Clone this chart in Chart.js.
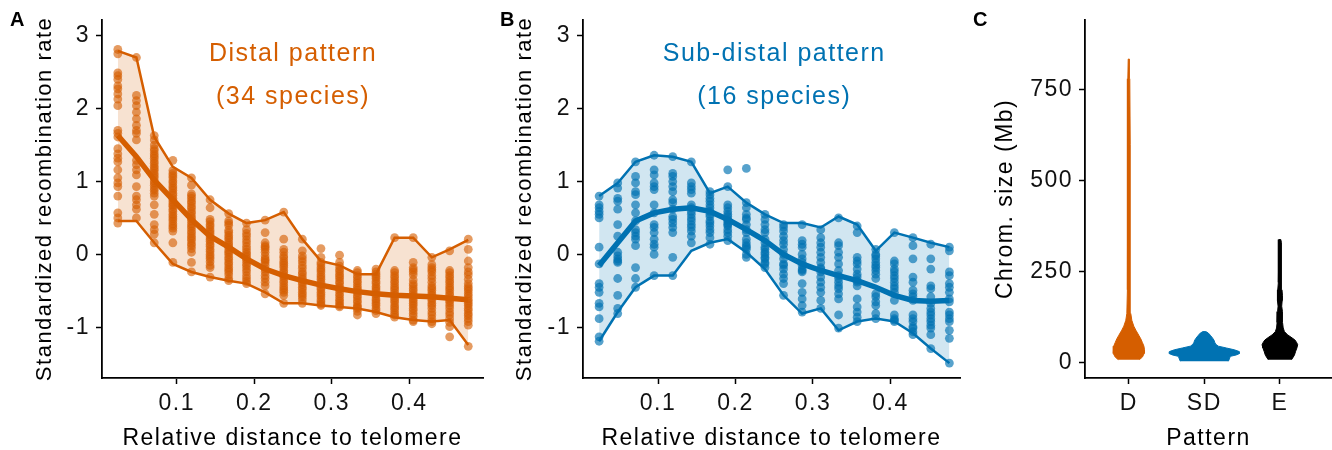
<!DOCTYPE html>
<html>
<head>
<meta charset="utf-8">
<script src="https://cdn.jsdelivr.net/npm/chart.js@4/dist/chart.umd.min.js"></script>
<style>
  html, body { margin: 0; padding: 0; background: #fff; }
  #wrap { position: relative; width: 1332px; height: 450px; overflow: hidden; }
  .panel { position: absolute; top: 0; height: 450px; }
</style>
</head>
<body>
<div id="wrap">
  <div class="panel" style="left:0;width:490px"><canvas id="chartA"></canvas></div>
  <div class="panel" style="left:490px;width:475px"><canvas id="chartB"></canvas></div>
  <div class="panel" style="left:965px;width:367px"><canvas id="chartC"></canvas></div>
</div>
<script>
// ---- data ----
// relative distance bins (20 windows along the chromosome arm)
const distBins = [0.024, 0.048, 0.071, 0.095, 0.119, 0.143, 0.167, 0.190, 0.214, 0.238,
                  0.262, 0.286, 0.310, 0.333, 0.357, 0.381, 0.405, 0.429, 0.452, 0.476];
const distTicks = [0.1, 0.2, 0.3, 0.4];
const rateTicks = [-1, 0, 1, 2, 3];

// A: distal pattern, standardized rate per species, one list per bin
const distalRates = [
  [2.81,2.75,2.49,2.45,2.40,2.31,2.27,2.20,2.13,2.04,1.70,1.66,1.61,1.45,1.38,1.32,1.27,1.16,1.05,0.98,0.93,0.80,0.57,0.50,0.43],
  [2.70,2.18,2.11,2.04,1.95,1.86,1.77,1.70,1.66,1.57,1.29,1.23,1.16,1.09,0.93,0.80,0.75,0.68,0.62,0.50],
  [1.63,1.57,1.50,1.45,1.42,1.38,1.35,1.32,1.28,1.25,1.21,1.18,1.15,1.11,1.08,1.05,1.01,0.98,0.95,0.91,0.88,0.84,0.80,0.68,0.55,0.41,0.34,0.28,0.16],
  [1.29,1.15,1.11,1.08,1.05,1.01,0.98,0.94,0.91,0.88,0.84,0.81,0.77,0.74,0.71,0.68,0.66,0.62,0.59,0.55,0.52,0.49,0.46,0.42,0.39,0.36,0.32,0.16,-0.11],
  [1.05,0.95,0.83,0.80,0.77,0.73,0.70,0.66,0.63,0.59,0.56,0.52,0.49,0.46,0.42,0.39,0.36,0.32,0.29,0.25,0.22,0.19,0.15,0.12,0.08,0.03,-0.11,-0.24],
  [0.75,0.64,0.48,0.45,0.41,0.38,0.34,0.31,0.28,0.24,0.21,0.18,0.14,0.11,0.07,0.04,0.00,-0.03,-0.06,-0.10,-0.15,-0.18,-0.31],
  [0.56,0.46,0.43,0.40,0.33,0.30,0.26,0.23,0.20,0.16,0.13,0.10,0.06,0.03,0.00,-0.04,-0.07,-0.11,-0.14,-0.18,-0.21,-0.24,-0.28,-0.33,-0.36],
  [0.43,0.34,0.29,0.25,0.20,0.16,0.11,0.07,0.03,0.00,-0.03,-0.06,-0.09,-0.13,-0.16,-0.20,-0.24,-0.29,-0.33,-0.37,-0.40],
  [0.47,0.30,0.16,0.12,0.10,0.07,0.03,-0.02,-0.06,-0.08,-0.11,-0.15,-0.20,-0.24,-0.29,-0.33,-0.38,-0.43,-0.54],
  [0.58,0.21,0.07,0.03,-0.02,-0.05,-0.09,-0.12,-0.15,-0.18,-0.22,-0.25,-0.29,-0.32,-0.36,-0.39,-0.43,-0.46,-0.49,-0.52,-0.56,-0.67],
  [0.21,0.05,-0.02,-0.06,-0.10,-0.15,-0.19,-0.24,-0.27,-0.31,-0.34,-0.38,-0.41,-0.45,-0.48,-0.52,-0.55,-0.58,-0.62,-0.67],
  [0.08,-0.04,-0.11,-0.14,-0.18,-0.21,-0.24,-0.28,-0.31,-0.34,-0.38,-0.41,-0.45,-0.48,-0.52,-0.55,-0.58,-0.62,-0.65,-0.68,-0.70],
  [-0.01,-0.11,-0.16,-0.20,-0.23,-0.27,-0.30,-0.33,-0.37,-0.40,-0.44,-0.47,-0.50,-0.54,-0.57,-0.61,-0.64,-0.67,-0.70,-0.72],
  [-0.22,-0.25,-0.29,-0.32,-0.36,-0.39,-0.43,-0.46,-0.49,-0.52,-0.56,-0.59,-0.63,-0.66,-0.70,-0.72,-0.74,-0.78,-0.83],
  [-0.20,-0.24,-0.27,-0.30,-0.33,-0.37,-0.40,-0.44,-0.47,-0.50,-0.54,-0.57,-0.61,-0.64,-0.67,-0.70,-0.74,-0.77,-0.81],
  [0.23,-0.22,-0.25,-0.29,-0.32,-0.36,-0.39,-0.43,-0.46,-0.49,-0.53,-0.56,-0.60,-0.63,-0.66,-0.70,-0.73,-0.76,-0.80,-0.83,-0.86],
  [0.23,-0.11,-0.18,-0.21,-0.24,-0.28,-0.35,-0.40,-0.43,-0.47,-0.50,-0.54,-0.57,-0.61,-0.64,-0.67,-0.70,-0.74,-0.77,-0.81,-0.85,-0.90,-0.92],
  [-0.04,-0.14,-0.18,-0.21,-0.24,-0.29,-0.33,-0.38,-0.43,-0.46,-0.49,-0.53,-0.56,-0.60,-0.63,-0.67,-0.70,-0.74,-0.79,-0.83,-0.88,-0.92,-0.95],
  [0.05,-0.22,-0.25,-0.29,-0.32,-0.36,-0.39,-0.43,-0.46,-0.49,-0.53,-0.56,-0.60,-0.63,-0.66,-0.70,-0.74,-0.79,-0.83,-0.88,-0.93,-0.99,-1.13],
  [0.21,0.07,-0.09,-0.18,-0.24,-0.28,-0.34,-0.40,-0.44,-0.47,-0.50,-0.54,-0.57,-0.61,-0.64,-0.67,-0.70,-0.74,-0.77,-0.81,-0.84,-0.88,-0.92,-0.97,-1.26]
];
const distalUpper = [2.79,2.70,1.61,1.20,1.05,0.75,0.56,0.43,0.47,0.58,0.21,-0.09,-0.15,-0.27,-0.27,0.23,0.23,-0.04,0.07,0.20];
const distalLower = [0.46,0.46,0.16,-0.13,-0.24,-0.31,-0.36,-0.40,-0.52,-0.67,-0.67,-0.70,-0.72,-0.74,-0.79,-0.86,-0.90,-0.92,-0.90,-1.24];
const distalTrend = [1.63,1.34,1.02,0.75,0.48,0.25,0.10,-0.06,-0.20,-0.29,-0.36,-0.42,-0.47,-0.51,-0.54,-0.56,-0.57,-0.58,-0.60,-0.62];

// B: sub-distal pattern
const subRates = [
  [0.80,0.68,0.64,0.59,0.55,0.50,0.10,-0.13,-0.40,-0.45,-0.52,-0.67,-0.72,-0.88,-1.13,-1.19],
  [0.98,0.91,0.77,0.73,0.62,0.41,0.25,0.03,-0.02,-0.06,-0.09,-0.11,-0.33,-0.56,-0.74,-0.81],
  [1.27,1.07,0.98,0.86,0.82,0.68,0.57,0.46,0.34,0.30,0.25,0.21,0.12,-0.18,-0.33,-0.45],
  [1.36,1.16,1.09,0.98,0.93,0.89,0.68,0.57,0.41,0.37,0.30,0.21,0.14,0.10,0.00,-0.29],
  [1.34,1.11,1.07,1.00,0.93,0.86,0.75,0.71,0.62,0.52,0.48,0.43,0.37,0.30,-0.04,-0.29],
  [1.27,0.98,0.93,0.89,0.84,0.68,0.64,0.59,0.55,0.50,0.46,0.41,0.37,0.32,0.25,0.16],
  [0.86,0.82,0.77,0.73,0.68,0.64,0.59,0.55,0.52,0.46,0.43,0.39,0.34,0.30,0.23,0.14],
  [1.16,0.93,0.68,0.64,0.59,0.55,0.52,0.48,0.46,0.43,0.41,0.39,0.34,0.30,0.25,0.19],
  [1.18,0.71,0.64,0.55,0.50,0.48,0.41,0.34,0.30,0.21,0.16,0.12,0.10,0.07,0.00,-0.04],
  [0.55,0.48,0.41,0.34,0.30,0.21,0.16,0.10,0.07,0.03,0.00,-0.04,-0.06,-0.11,-0.13,-0.18],
  [0.41,0.37,0.32,0.25,0.19,0.14,0.07,0.00,-0.06,-0.13,-0.15,-0.20,-0.27,-0.33,-0.40,-0.56],
  [0.41,0.19,0.14,0.10,0.00,-0.06,-0.11,-0.15,-0.20,-0.22,-0.24,-0.40,-0.52,-0.61,-0.70,-0.79],
  [0.34,0.23,0.16,0.10,0.03,-0.04,-0.11,-0.18,-0.20,-0.24,-0.31,-0.38,-0.45,-0.52,-0.63,-0.74],
  [0.50,0.16,0.12,0.03,-0.04,-0.13,-0.22,-0.29,-0.33,-0.38,-0.43,-0.47,-0.54,-0.61,-0.83,-1.01],
  [0.39,0.30,-0.04,-0.09,-0.13,-0.20,-0.27,-0.31,-0.36,-0.38,-0.43,-0.61,-0.72,-0.79,-0.86,-0.92],
  [0.07,0.00,-0.02,-0.06,-0.11,-0.15,-0.18,-0.22,-0.27,-0.33,-0.54,-0.58,-0.65,-0.70,-0.81,-0.88],
  [0.30,-0.09,-0.13,-0.20,-0.24,-0.29,-0.33,-0.38,-0.43,-0.47,-0.52,-0.63,-0.83,-0.88,-0.90,-0.92],
  [0.23,0.12,-0.06,-0.31,-0.38,-0.49,-0.54,-0.58,-0.63,-0.83,-0.88,-0.92,-0.99,-1.01,-1.06,-1.10],
  [0.14,-0.06,-0.20,-0.43,-0.47,-0.58,-0.67,-0.74,-0.79,-0.83,-0.88,-0.92,-0.97,-1.01,-1.10,-1.29],
  [0.10,0.05,-0.24,-0.29,-0.40,-0.45,-0.52,-0.61,-0.65,-0.79,-0.83,-0.88,-0.92,-1.04,-1.15,-1.49]
];
const subUpper = [0.80,0.98,1.27,1.36,1.34,1.27,0.84,0.93,0.71,0.55,0.43,0.43,0.37,0.52,0.41,0.05,0.30,0.23,0.16,0.10];
const subLower = [-1.19,-0.79,-0.45,-0.29,-0.29,0.05,0.16,0.21,0.03,-0.20,-0.56,-0.81,-0.74,-1.04,-0.92,-0.88,-0.92,-1.08,-1.29,-1.49];
const subTrend = [-0.15,0.16,0.46,0.57,0.62,0.64,0.59,0.48,0.34,0.19,0.00,-0.13,-0.22,-0.29,-0.36,-0.45,-0.56,-0.63,-0.64,-0.63];

// C: chromosome size violins, [size Mb, half width in category units], bottom to top
const patternLabels = ['D', 'SD', 'E'];
const sizeTicks = [0, 250, 500, 750];
const violinD = [[8,0.140],[15,0.180],[25,0.203],[35,0.208],[45,0.200],[55,0.180],[65,0.159],[75,0.132],
                 [89,0.093],[100,0.066],[116,0.040],[135,0.026],[200,0.021],[400,0.019],[600,0.016],[780,0.013],[834,0.008]];
const violinSD = [[3.5,0.318],[10,0.331],[17,0.344],[21,0.424],[25,0.468],[30,0.464],[35,0.397],[40,0.291],
                  [45,0.185],[50,0.152],[55,0.139],[62,0.126],[67,0.110],[75,0.079],[81,0.053],[85,0.020]];
const violinE = [[8,0.155],[20,0.192],[31,0.209],[40,0.225],[49,0.236],[56,0.219],[62,0.199],[70,0.146],[76,0.103],
                 [85,0.060],[95,0.044],[110,0.035],[125,0.038],[140,0.030],[155,0.024],[170,0.030],[185,0.034],
                 [200,0.028],[220,0.022],[260,0.019],[300,0.021],[330,0.019],[338,0.012]];

// ---- styling ----
const ORANGE = '#D55E00';
const BLUE = '#0072B2';
const FONT = '"Liberation Sans", Arial, Helvetica, sans-serif';
Chart.defaults.font.family = FONT;
Chart.defaults.color = '#000';

function columnPoints(cols) {
  const pts = [];
  cols.forEach((vals, i) => vals.forEach(v => pts.push({ x: distBins[i], y: v })));
  return pts;
}
function linePoints(vals) {
  return vals.map((v, i) => ({ x: distBins[i], y: v }));
}
function violinShape(profile, pos) {
  const right = profile.map(([y, w]) => ({ x: pos + w, y: y }));
  const left = profile.slice().reverse().map(([y, w]) => ({ x: pos - w, y: y }));
  return right.concat(left);
}

// panel letter, in-plot heading and a little letter spacing for all texts
function figureText(cfg) {
  return {
    id: 'figureText',
    beforeLayout(chart) { chart.ctx.letterSpacing = '1.5px'; },
    beforeDraw(chart) { chart.ctx.letterSpacing = '1.5px'; },
    afterDraw(chart) {
      const ctx = chart.ctx;
      ctx.save();
      ctx.letterSpacing = '0px';
      ctx.fillStyle = '#000';
      ctx.font = 'bold 20px ' + FONT;
      ctx.textAlign = 'left';
      ctx.textBaseline = 'alphabetic';
      ctx.fillText(cfg.tag, cfg.tagX, cfg.tagY);
      if (cfg.heading) {
        const xs = chart.scales.x, ys = chart.scales.y;
        ctx.letterSpacing = '1.5px';
        ctx.font = '25px ' + FONT;
        ctx.fillStyle = cfg.color;
        ctx.textAlign = 'center';
        cfg.heading.forEach((line, i) => {
          ctx.fillText(line, xs.getPixelForValue(cfg.headX), ys.getPixelForValue(cfg.headY[i]));
        });
      }
      ctx.restore();
    }
  };
}

function axisBits(titleText, titlePad, titleSize) {
  return {
    grid: { drawOnChartArea: false, drawTicks: true, tickLength: 6, tickColor: '#000', tickWidth: 1.5 },
    border: { color: '#000', width: 1.8 },
    title: { display: true, text: titleText, color: '#000', font: { size: titleSize, lineHeight: 1 },
             padding: { top: titlePad, bottom: 0 } }
  };
}

function profileChart(id, o) {
  const x = Object.assign(axisBits('Relative distance to telomere', 0, 23), {
    type: 'linear', min: o.xMin, max: o.xMax,
    afterFit: s => { s.height = 72; },
    afterBuildTicks: s => { s.ticks = distTicks.map(v => ({ value: v })); },
    ticks: { color: '#111', font: { size: 23 }, padding: 6, maxRotation: 0, autoSkip: false,
             callback: v => v.toFixed(1) }
  });
  const y = Object.assign(axisBits('Standardized recombination rate', o.titlePad, 22), {
    type: 'linear', min: -1.694, max: 3.217,
    afterFit: s => { s.width = o.yWidth; },
    afterBuildTicks: s => { s.ticks = rateTicks.map(v => ({ value: v })); },
    ticks: { color: '#111', font: { size: 23 }, padding: 6, callback: v => String(v) }
  });
  return new Chart(document.getElementById(id), {
    type: 'scatter',
    data: {
      datasets: [
        { data: linePoints(o.upper), showLine: true, borderColor: o.color, borderWidth: 2.5, pointRadius: 0,
          fill: '+1', backgroundColor: o.ribbon, order: 4 },
        { data: linePoints(o.lower), showLine: true, borderColor: o.color, borderWidth: 2.5, pointRadius: 0,
          fill: false, order: 3 },
        { data: columnPoints(o.rates), showLine: false, pointRadius: 4.4, pointBorderWidth: 0,
          pointBackgroundColor: o.dot, order: 2 },
        { data: linePoints(o.trend), showLine: true, borderColor: o.color, borderWidth: 5.5, pointRadius: 0,
          fill: false, order: 1 }
      ]
    },
    options: {
      responsive: true, maintainAspectRatio: false, animation: false,
      layout: { padding: { left: 0, top: 15, right: o.padRight, bottom: 0 } },
      scales: { x: x, y: y },
      plugins: { legend: { display: false }, tooltip: { enabled: false } }
    },
    plugins: [figureText(o.text)]
  });
}

profileChart('chartA', {
  rates: distalRates, upper: distalUpper, lower: distalLower, trend: distalTrend,
  color: ORANGE, dot: 'rgba(213,94,0,0.62)', ribbon: 'rgba(213,94,0,0.18)',
  xMin: 0.0036, xMax: 0.495, yWidth: 102, titlePad: 34, padRight: 7,
  text: { tag: 'A', tagX: 10, tagY: 26, color: ORANGE, heading: ['Distal pattern', '(34 species)'],
          headX: 0.25, headY: [2.65, 2.06] }
});

profileChart('chartB', {
  rates: subRates, upper: subUpper, lower: subLower, trend: subTrend,
  color: BLUE, dot: 'rgba(0,114,178,0.66)', ribbon: 'rgba(0,114,178,0.18)',
  xMin: 0.0032, xMax: 0.4897, yWidth: 93, titlePad: 24, padRight: 5,
  text: { tag: 'B', tagX: 10, tagY: 26, color: BLUE, heading: ['Sub-distal pattern', '(16 species)'],
          headX: 0.25, headY: [2.65, 2.06] }
});

// C: violins drawn as closed shapes on a numeric x axis labelled with the patterns
const violinColors = [ORANGE, BLUE, '#000000'];
const violins = [violinD, violinSD, violinE];
const cx = Object.assign(axisBits('Pattern', 0, 23), {
  type: 'linear', min: 0.42, max: 3.69,
  afterFit: s => { s.height = 72; },
  afterBuildTicks: s => { s.ticks = patternLabels.map((l, i) => ({ value: i + 1 })); },
  ticks: { color: '#111', font: { size: 23 }, padding: 6, maxRotation: 0, autoSkip: false,
           callback: (v, i) => patternLabels[i] }
});
const cy = Object.assign(axisBits('Chrom. size (Mb)', 29, 23), {
  type: 'linear', min: -42.5, max: 942,
  afterFit: s => { s.width = 120; },
  afterBuildTicks: s => { s.ticks = sizeTicks.map(v => ({ value: v })); },
  ticks: { color: '#111', font: { size: 23 }, padding: 6, callback: v => String(v) }
});
new Chart(document.getElementById('chartC'), {
  type: 'scatter',
  data: {
    datasets: violins.map((prof, i) => ({
      data: violinShape(prof, i + 1), showLine: true, pointRadius: 0, tension: 0,
      borderColor: violinColors[i], borderWidth: 1, backgroundColor: violinColors[i], fill: 'shape'
    }))
  },
  options: {
    responsive: true, maintainAspectRatio: false, animation: false,
    layout: { padding: { left: 0, top: 15, right: 0, bottom: 0 } },
    scales: { x: cx, y: cy },
    plugins: { legend: { display: false }, tooltip: { enabled: false } }
  },
  plugins: [figureText({ tag: 'C', tagX: 8, tagY: 26 })]
});
</script>
</body>
</html>
